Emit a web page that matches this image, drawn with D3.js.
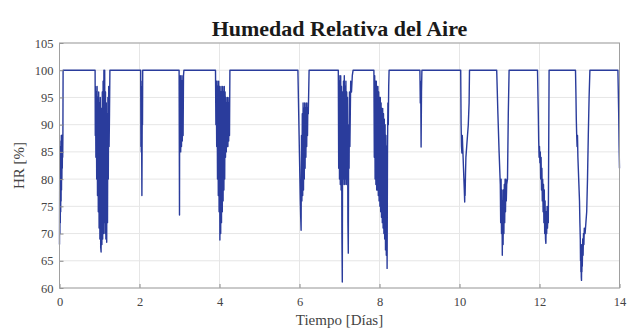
<!DOCTYPE html>
<html>
<head>
<meta charset="utf-8">
<script src="https://cdn.jsdelivr.net/npm/d3@7"></script>
<style>
  body { margin: 0; background: #ffffff; }
  svg { display: block; }
</style>
</head>
<body>
<div id="vis"></div>
<script>
const SVG_WIDTH = 629;
const SVG_HEIGHT = 328;

const MARGIN = {
    top: 43,
    bottom: 40,
    right: 9.5,
    left: 59.5,
};

// texto
const titulo = "Humedad Relativa del Aire";
const etiquetaX = "Tiempo [Días]";
const etiquetaY = "HR [%]";

// ejes
const xTicks = [0, 2, 4, 6, 8, 10, 12, 14];
const yTicks = [60, 65, 70, 75, 80, 85, 90, 95, 100, 105];
const xDominio = [0, 14];
const yDominio = [60, 105];

// lecturas [dia, HR %]
const lecturas = [
    [0.000, 68], [0.005, 82], [0.010, 70], [0.015, 84], [0.020, 72], [0.025, 86],
    [0.030, 74], [0.035, 87], [0.040, 76], [0.045, 88], [0.050, 78], [0.055, 88],
    [0.060, 80], [0.065, 88], [0.070, 82], [0.075, 88], [0.080, 84], [0.085, 88],
    [0.090, 100],

    [0.880, 100], [0.890, 100], [0.895, 88], [0.900, 97], [0.910, 84], [0.920, 96],
    [0.930, 80], [0.940, 97], [0.950, 77], [0.960, 95], [0.970, 74], [0.980, 96],
    [0.990, 71], [1.000, 94], [1.010, 69], [1.020, 95], [1.030, 67.5], [1.040, 66.6],
    [1.050, 93], [1.060, 68], [1.070, 96], [1.080, 69], [1.090, 98], [1.100, 70],
    [1.110, 100], [1.120, 72], [1.130, 100], [1.140, 70], [1.150, 96], [1.160, 69],
    [1.170, 94], [1.180, 68.4], [1.190, 92], [1.200, 72], [1.210, 95], [1.220, 80],
    [1.230, 97], [1.240, 86], [1.250, 92], [1.260, 100],

    [2.030, 100], [2.035, 86], [2.040, 98], [2.045, 85], [2.050, 97], [2.055, 84],
    [2.060, 77], [2.065, 86], [2.070, 96], [2.075, 90], [2.080, 100],

    [2.990, 100], [3.000, 73.4], [3.005, 98], [3.010, 86], [3.020, 99], [3.030, 85],
    [3.040, 98], [3.050, 86], [3.060, 99], [3.070, 87], [3.080, 98], [3.090, 88],
    [3.100, 99], [3.110, 100],

    [3.900, 100], [3.910, 90], [3.920, 98], [3.930, 86], [3.940, 98], [3.950, 80],
    [3.960, 97], [3.970, 77], [3.980, 98], [3.990, 74], [4.000, 97], [4.010, 68.8],
    [4.020, 96], [4.030, 70], [4.040, 97], [4.050, 72], [4.060, 96], [4.070, 74],
    [4.080, 97], [4.090, 76], [4.100, 96], [4.110, 78], [4.120, 97], [4.130, 80],
    [4.140, 96], [4.150, 84], [4.160, 95], [4.170, 85], [4.180, 94], [4.190, 86],
    [4.200, 95], [4.210, 86], [4.220, 94], [4.230, 87], [4.240, 95], [4.250, 88],
    [4.260, 100],

    [5.960, 100], [5.980, 92], [5.990, 88], [6.000, 84], [6.010, 80], [6.020, 76],
    [6.030, 73], [6.040, 70.6], [6.050, 88], [6.060, 76], [6.070, 92], [6.080, 77],
    [6.090, 94], [6.100, 78], [6.110, 93], [6.120, 80], [6.130, 94], [6.140, 82],
    [6.150, 93], [6.160, 84], [6.170, 94], [6.180, 86], [6.190, 93], [6.200, 88],
    [6.210, 94], [6.220, 92], [6.240, 100],

    [6.970, 100], [6.980, 82], [6.990, 99], [7.000, 80], [7.010, 98], [7.020, 79],
    [7.030, 99], [7.040, 78], [7.050, 97], [7.060, 70], [7.070, 61.1], [7.080, 96],
    [7.090, 79], [7.100, 98], [7.110, 80], [7.120, 99], [7.130, 79], [7.140, 97],
    [7.150, 80], [7.160, 98], [7.170, 79], [7.180, 96], [7.190, 80], [7.200, 95],
    [7.210, 72], [7.220, 66.4], [7.230, 90], [7.240, 82], [7.250, 96], [7.260, 86],
    [7.280, 98], [7.300, 96], [7.320, 99], [7.340, 100],

    [7.860, 100], [7.870, 84], [7.880, 99], [7.890, 80], [7.900, 98], [7.910, 79],
    [7.920, 98], [7.930, 78], [7.940, 97], [7.950, 78], [7.960, 97], [7.970, 77],
    [7.980, 96], [7.990, 76], [8.000, 95], [8.010, 75], [8.020, 95], [8.030, 74],
    [8.040, 94], [8.050, 73], [8.060, 93], [8.070, 72], [8.080, 93], [8.090, 71],
    [8.100, 92], [8.110, 70], [8.120, 91], [8.130, 69], [8.140, 90], [8.150, 67],
    [8.160, 88], [8.170, 66], [8.180, 86], [8.190, 63.6], [8.200, 85], [8.210, 94],
    [8.220, 90], [8.230, 97], [8.240, 100],

    [9.010, 100], [9.020, 94], [9.030, 98], [9.040, 85.9], [9.050, 96], [9.060, 100],

    [10.030, 100], [10.040, 90], [10.050, 86], [10.060, 84.8], [10.070, 88], [10.080, 86],
    [10.090, 84], [10.100, 82], [10.110, 80], [10.120, 78], [10.130, 75.8], [10.135, 80],
    [10.140, 77], [10.150, 81], [10.160, 84], [10.180, 86], [10.200, 88], [10.220, 90],
    [10.240, 94], [10.250, 100],

    [10.930, 100], [10.960, 92], [10.990, 85], [11.010, 81], [11.020, 79], [11.030, 72],
    [11.040, 80], [11.050, 70], [11.060, 78], [11.070, 66], [11.080, 76], [11.090, 68],
    [11.100, 78], [11.110, 70], [11.120, 79], [11.130, 72], [11.140, 80], [11.150, 74],
    [11.160, 80], [11.170, 76], [11.180, 79], [11.200, 80], [11.220, 92], [11.240, 100],

    [11.950, 100], [11.970, 92], [11.980, 87], [11.990, 84], [12.000, 86], [12.010, 83],
    [12.020, 85], [12.030, 80], [12.040, 84], [12.050, 78], [12.060, 82], [12.070, 76],
    [12.080, 80], [12.090, 74], [12.100, 79], [12.110, 72], [12.120, 78], [12.130, 70],
    [12.140, 76], [12.150, 69], [12.160, 68.2], [12.170, 74], [12.180, 70], [12.190, 75],
    [12.200, 71], [12.210, 74], [12.220, 72], [12.240, 100],

    [12.900, 100], [12.910, 96], [12.920, 91], [12.930, 88], [12.940, 86], [12.950, 88],
    [12.960, 84], [12.970, 82], [12.980, 80], [12.990, 78], [13.000, 76], [13.010, 72],
    [13.020, 69], [13.025, 65], [13.030, 68], [13.035, 63], [13.040, 67], [13.045, 62],
    [13.050, 61.4], [13.055, 66], [13.060, 63], [13.065, 68], [13.070, 64], [13.080, 69],
    [13.090, 66], [13.100, 70], [13.110, 68], [13.120, 71], [13.140, 70], [13.160, 72],
    [13.180, 74], [13.200, 80], [13.220, 88], [13.240, 95], [13.260, 100],

    [13.960, 100], [13.980, 92], [13.990, 86], [14.000, 82],
];

const SVG = d3.select("#vis").append("svg");
SVG.attr("width", SVG_WIDTH).attr("height", SVG_HEIGHT);

const x0 = MARGIN.left;
const x1 = SVG_WIDTH - MARGIN.right;
const y0 = SVG_HEIGHT - MARGIN.bottom;
const y1 = MARGIN.top;

const XScale = d3.scaleLinear().domain(xDominio).range([x0, x1]);
const YScale = d3.scaleLinear().domain(yDominio).range([y0, y1]);

const FUENTE = "'Liberation Serif', 'DejaVu Serif', serif";

// rejilla
const grid = SVG.append("g").attr("id", "grid");
grid.selectAll(".gx").data(xTicks).join("line")
    .attr("class", "gx")
    .attr("x1", (d) => XScale(d)).attr("x2", (d) => XScale(d))
    .attr("y1", y1).attr("y2", y0)
    .attr("stroke", "#e6e6e6").attr("stroke-width", 1);
grid.selectAll(".gy").data(yTicks).join("line")
    .attr("class", "gy")
    .attr("x1", x0).attr("x2", x1)
    .attr("y1", (d) => YScale(d)).attr("y2", (d) => YScale(d))
    .attr("stroke", "#e6e6e6").attr("stroke-width", 1);

// serie
SVG.append("path")
   .datum(lecturas)
   .attr("fill", "none")
   .attr("stroke", "#2a3c9c")
   .attr("stroke-width", 1.4)
   .attr("stroke-linejoin", "round")
   .attr("d", d3.line()
                .x((d) => XScale(d[0]))
                .y((d) => YScale(d[1])));

// ejes
let xAxis = d3.axisBottom(XScale).tickValues(xTicks).tickSizeInner(-4).tickSizeOuter(0).tickPadding(9);
let xAxisCont = SVG.append("g")
                   .attr("transform", `translate(0, ${y0})`)
                   .call(xAxis);
let yAxis = d3.axisLeft(YScale).tickValues(yTicks).tickSizeInner(-4).tickSizeOuter(0).tickPadding(6);
let yAxisCont = SVG.append("g")
                   .attr("transform", `translate(${x0}, 0)`)
                   .call(yAxis);

[xAxisCont, yAxisCont].forEach((ax) => {
    ax.select(".domain").remove();
    ax.selectAll("line").attr("stroke", "#8a8a8a");
    ax.selectAll("text")
      .attr("font-family", FUENTE)
      .attr("font-size", 12.5)
      .attr("fill", "#444444");
});

// caja
SVG.append("rect")
   .attr("x", x0).attr("y", y1)
   .attr("width", x1 - x0).attr("height", y0 - y1)
   .attr("fill", "none")
   .attr("stroke", "#a0a0a0")
   .attr("stroke-width", 1);

// textos
SVG.append("text")
   .text(titulo)
   .attr("x", (x0 + x1) / 2)
   .attr("y", 36)
   .attr("text-anchor", "middle")
   .attr("font-family", FUENTE)
   .attr("font-weight", "bold")
   .attr("font-size", 22)
   .attr("fill", "#1a1a1a");

SVG.append("text")
   .text(etiquetaX)
   .attr("x", (x0 + x1) / 2)
   .attr("y", 325)
   .attr("text-anchor", "middle")
   .attr("font-family", FUENTE)
   .attr("font-size", 15)
   .attr("fill", "#444444");

SVG.append("text")
   .text(etiquetaY)
   .attr("transform", `translate(24, ${(y0 + y1) / 2}) rotate(-90)`)
   .attr("text-anchor", "middle")
   .attr("font-family", FUENTE)
   .attr("font-size", 15)
   .attr("fill", "#444444");
</script>
</body>
</html>
